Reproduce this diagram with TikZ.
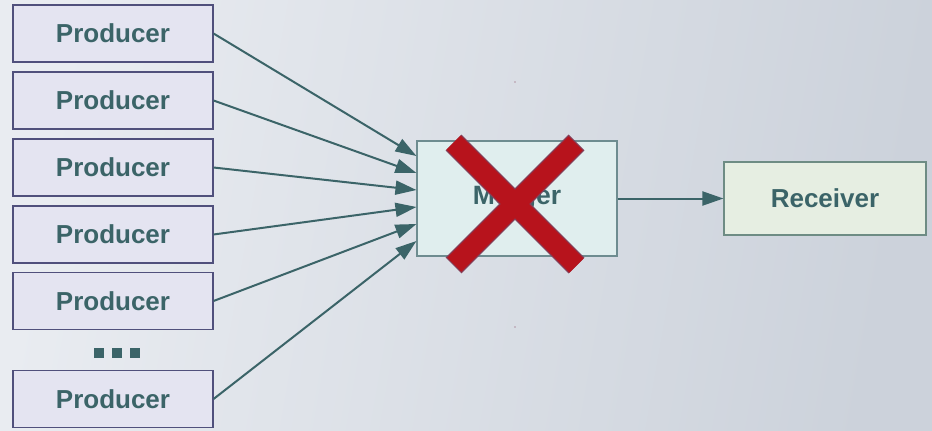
\documentclass[tikz,border=0pt]{standalone}
\usepackage{fontspec}
\setmainfont{Liberation Sans}
\usepackage{xcolor}
\usetikzlibrary{positioning,calc,arrows.meta}
\definecolor{CText}{HTML}{3B6468}
\definecolor{CBgLeft}{HTML}{E9ECF1}
\definecolor{CBgRight}{HTML}{CCD2DB}
\definecolor{CProdFill}{HTML}{E4E4F1}
\definecolor{CProdLine}{HTML}{50507C}
\definecolor{CMergeFill}{HTML}{E0EEEE}
\definecolor{CMergeLine}{HTML}{6E8C90}
\definecolor{CRecvFill}{HTML}{E6EEE2}
\definecolor{CRecvLine}{HTML}{6E8C84}
\definecolor{CCross}{HTML}{B7131C}
\definecolor{CCrossEdge}{HTML}{84405A}

\begin{document}
\begin{tikzpicture}[x=1pt, y=-1pt,
  prodbox/.style={draw=CProdLine, fill=CProdFill, line width=1.1pt, minimum width=200pt, minimum height=57pt, inner sep=0pt, font=\fontsize{26}{30}\selectfont\bfseries, text=CText},
  mergebox/.style={draw=CMergeLine, fill=CMergeFill, line width=1.1pt, minimum width=200pt, minimum height=115pt, inner sep=0pt, font=\fontsize{26.5}{30}\selectfont\bfseries, text=CText},
  recvbox/.style={draw=CRecvLine, fill=CRecvFill, line width=1.1pt, minimum width=202pt, minimum height=73pt, inner sep=0pt, font=\fontsize{26}{30}\selectfont\bfseries, text=CText},
  conn/.style={draw=CText, line width=2pt, -{Triangle[length=21pt,width=14pt]}},
  dotsq/.style={fill=CText, minimum size=10pt, inner sep=0pt}]
\shade[left color=CBgLeft, right color=CBgRight, shading angle=80] (0,0) rectangle (932,431);
\useasboundingbox (0,0) rectangle (932,431);
% producers
\foreach \i/\y in {1/33.5,2/100.5,3/167.5,4/234.5,5/301,7/399}{
  \node[prodbox] (p\i) at (113,\y) {Producer};
}
\node[dotsq] (d1) at (99,353) {};
\node[dotsq] (d2) at (117,353) {};
\node[dotsq] (d3) at (135,353) {};
% merger and receiver
\node[mergebox] (m) at (517,198.5) {Merger};
\node[recvbox] (r) at (825,198.5) {Receiver};
\fill[CCrossEdge] (515,82) circle (0.7pt);
\fill[CCrossEdge] (515,327) circle (0.7pt);
\draw[conn] (p1.east) -- ([yshift=42.5pt]m.west);
\draw[conn] (p2.east) -- ([yshift=25.5pt]m.west);
\draw[conn] (p3.east) -- ([yshift=8.5pt]m.west);
\draw[conn] (p4.east) -- ([yshift=-8.5pt]m.west);
\draw[conn] (p5.east) -- ([yshift=-25.5pt]m.west);
\draw[conn] (p7.east) -- ([yshift=-42.5pt]m.west);
\draw[conn] (m.east) -- (r.west);
% the cross
\draw[CCrossEdge, line width=22.5pt] (453.5,142.5) -- (576.5,265.5) (576.5,142.5) -- (453.5,265.5);
\draw[CCross, line width=20pt, shorten <=1.2pt, shorten >=1.2pt] (453.5,142.5) -- (576.5,265.5) (576.5,142.5) -- (453.5,265.5);
\end{tikzpicture}
\end{document}
